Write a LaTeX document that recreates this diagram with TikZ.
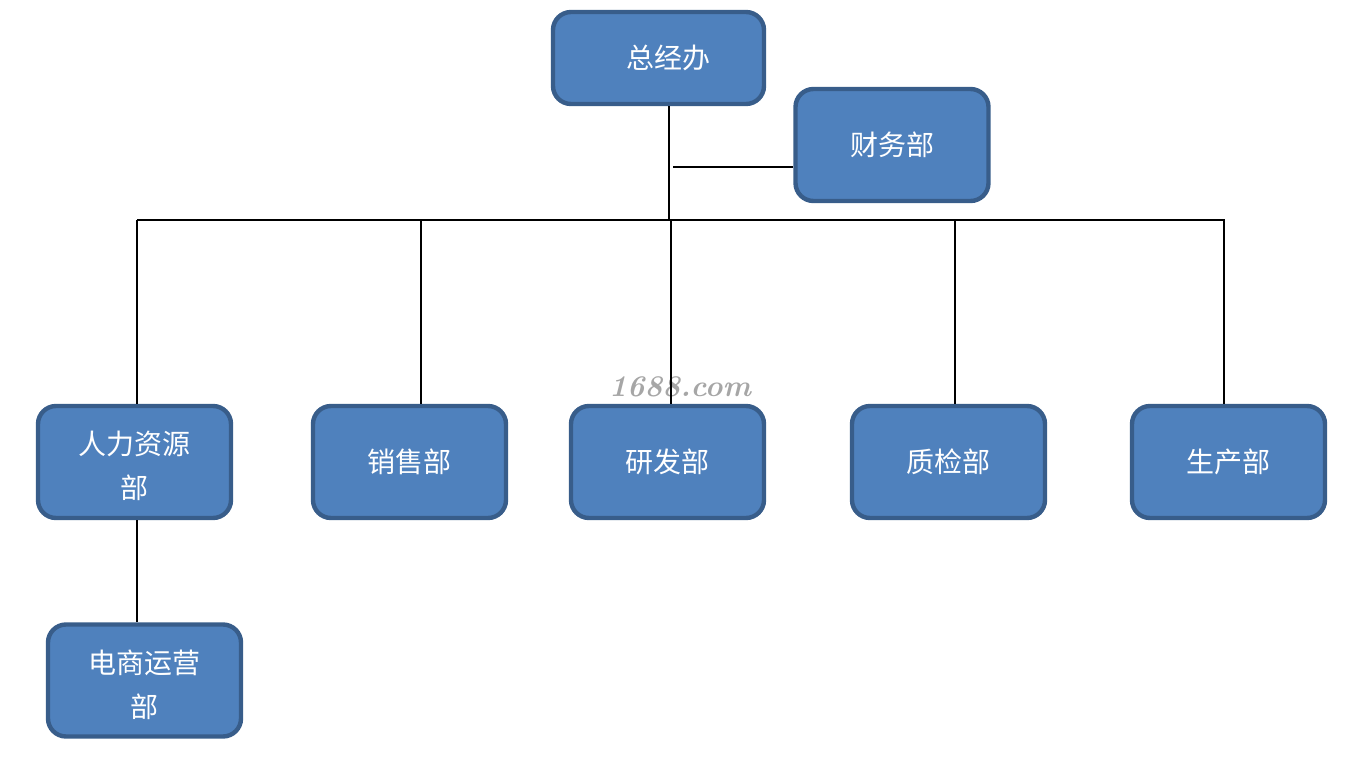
\documentclass[tikz,border=0pt]{standalone}
\usepackage{fontspec}
\newfontfamily\cjk{Noto Sans CJK SC}
\usetikzlibrary{positioning}
\definecolor{deptfill}{HTML}{4F81BD}
\definecolor{deptline}{HTML}{385D8A}
\tikzset{
  dept/.style={draw=deptline, fill=deptfill, line width=2.2pt, rounded corners=9pt,
    minimum width=96.5pt, minimum height=56pt, text=white, align=center,
    font=\cjk\fontsize{14}{22}\selectfont, inner sep=2pt},
  link/.style={line width=1pt, black}
}
\begin{document}
\begin{tikzpicture}[x=0.5pt, y=-0.5pt]
\useasboundingbox (0,0) rectangle (1359,771);
% top
\node[dept, minimum width=105.5pt, minimum height=46pt] (gm) at (658.5,58) {\hspace{10pt}总经办};
\node[dept] (fin) at (892,145) {财务部};
% departments
\node[dept] (hr) at (134.5,462) {\rule{0pt}{16pt}人力资源\\部};
\node[dept] (sales) at (409.5,462) {销售部};
\node[dept] (rd) at (667.5,462) {研发部};
\node[dept] (qc) at (948.5,462) {质检部};
\node[dept] (prod) at (1228.5,462) {生产部};
\node[dept] (ec) at (144.5,680.5) {\rule{0pt}{16pt}电商运营\\部};
% watermark
\node[text=gray!70, font=\bfseries\itshape\fontsize{15}{15}\selectfont] (wm) at (680,387) {1688.com};
% lines
\coordinate (bus) at (669,220);
\coordinate (tap) at (673,167);
\draw[link] (gm.south -| bus) -- (bus); % trunk
\draw[link] (tap) -- (tap -| fin.west);
\coordinate (busL) at (137,220);
\coordinate (busR) at (1225,220);
\draw[link] (busL) -- (busR); % the bus
\foreach \x/\n in {137/hr, 421/sales, 671/rd, 955/qc, 1224/prod} % drops
\draw[link] (\x,220) -- (\x,220 |- \n.north);
\draw[link] (hr.south -| busL) -- (busL |- ec.north);
\end{tikzpicture}
\end{document}
